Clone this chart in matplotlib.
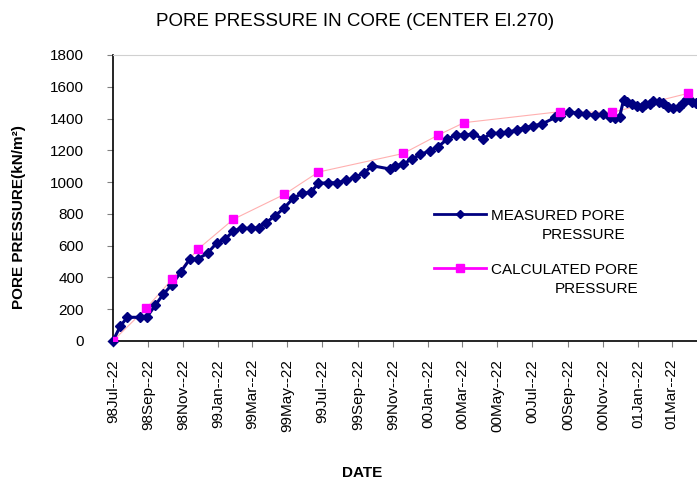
import numpy as np
import pandas as pd
import matplotlib
matplotlib.use("Agg")
import matplotlib.pyplot as plt
import matplotlib.dates as mdates
from matplotlib.lines import Line2D
from matplotlib.legend_handler import HandlerLine2D

plt.rcParams['font.family'] = ['Liberation Sans', 'DejaVu Sans']

START = pd.Timestamp('1998-07-22')

# measured pore pressure: days after 22 Jul 1998, kN/m2
measured_days = [0, 13, 25, 47, 59, 74, 88, 103, 118, 134, 148, 165, 181, 196, 210,
                 225, 240, 255, 267, 283, 298, 314, 330, 345, 358, 375, 390, 407, 422,
                 438, 452, 483, 492, 506, 521, 536, 553, 567, 583, 598, 612, 628, 645,
                 659, 675, 689, 704, 718, 733, 748, 771, 779, 795, 810, 825, 840, 855,
                 866, 875, 883, 890, 896, 904, 913, 922, 927, 936, 942, 951, 959, 968,
                 977, 986, 994, 1000, 1009, 1016]
measured_kpa = [0, 94, 149, 149, 149, 226, 295, 355, 432, 516, 516, 553, 617, 641, 694,
                709, 709, 713, 745, 789, 835, 898, 929, 936, 992, 996, 996, 1011, 1030,
                1059, 1103, 1082, 1101, 1114, 1145, 1174, 1198, 1223, 1271, 1296, 1296, 1303, 1271,
                1307, 1307, 1313, 1328, 1343, 1355, 1366, 1407, 1416, 1443, 1432, 1428, 1420, 1427,
                1411, 1401, 1411, 1515, 1502, 1489, 1479, 1470, 1489, 1491, 1512, 1506, 1495, 1475,
                1468, 1475, 1495, 1521, 1506, 1495]

# calculated pore pressure
calc_days = [0, 58, 103, 148, 210, 299, 358, 506, 567, 612, 779, 870, 1003]
calc_kpa = [0, 206, 388, 577, 766, 923, 1063, 1180, 1296, 1374, 1443, 1439, 1559]

meas_dates = START + pd.to_timedelta(measured_days, unit='D')
calc_dates = START + pd.to_timedelta(calc_days, unit='D')


class TopLineHandler(HandlerLine2D):
    """ legend handle drawn level with the first text line """
    def create_artists(self, legend, orig_handle, xdescent, ydescent,
                       width, height, fontsize, trans):
        artists = super().create_artists(legend, orig_handle, xdescent, ydescent,
                                         width, height, fontsize, trans)
        for a in artists:
            a.set_ydata(np.asarray(a.get_ydata()) + 0.78 * fontsize)
        return artists


fig = plt.figure(figsize=(6.97, 4.86), dpi=100)
ax = fig.add_axes([0.162, 0.2984, 0.838, 0.5885])

ax.plot(calc_dates, calc_kpa, color='#ffb0b0', lw=0.8, zorder=2)
ax.plot(calc_dates, calc_kpa, ls='none', marker='s', ms=5.5, color='#ff00ff',
        mec='#ff00ff', zorder=4)
ax.plot(meas_dates, measured_kpa, color='#000080', lw=2.2, marker='D', ms=4.8,
        mec='#000080', zorder=3, clip_on=False)

ax.set_ylim(0, 1800)
ax.set_yticks(np.arange(0, 1801, 200))
ax.set_xlim(START, START + pd.Timedelta(days=1018))

ax.xaxis.set_major_locator(mdates.MonthLocator(bymonth=[1, 3, 5, 7, 9, 11], bymonthday=22))
ax.xaxis.set_major_formatter(mdates.DateFormatter('%y%b--%d'))
ax.tick_params(axis='x', rotation=90, labelsize=11, length=4, color='#808080', pad=9)
ax.tick_params(axis='y', labelsize=11, length=4, color='#808080', pad=17)

ax.spines['right'].set_visible(False)
ax.spines['top'].set_color('#d0d0d0')
ax.spines['left'].set_linewidth(1.2)
ax.spines['bottom'].set_linewidth(1.2)

fig.text(0.509, 0.955, 'PORE PRESSURE IN CORE (CENTER El.270)', ha='center', va='center', fontsize=13.5)
fig.text(0.027, 0.553, 'PORE PRESSURE(kN/m²)', rotation=90, ha='center', va='center',
         fontsize=11, fontweight='bold')
fig.text(0.52, 0.027, 'DATE', ha='center', va='center', fontsize=11, fontweight='bold')

handles = [Line2D([], [], color='#000080', lw=2, marker='D', ms=4),
           Line2D([], [], color='#ff00ff', lw=2, marker='s', ms=6)]
leg = ax.legend(handles, ['MEASURED PORE\nPRESSURE', 'CALCULATED PORE\nPRESSURE'],
                loc='upper left', bbox_to_anchor=(0.536, 0.487), frameon=False,
                borderpad=0, fontsize=11, handlelength=3.45, handletextpad=0.33,
                labelspacing=1.36, handler_map={Line2D: TopLineHandler()})
for t in leg.get_texts():
    t.set_multialignment('right')
    t.set_linespacing(1.45)

fig.savefig('out.png', dpi=100)
